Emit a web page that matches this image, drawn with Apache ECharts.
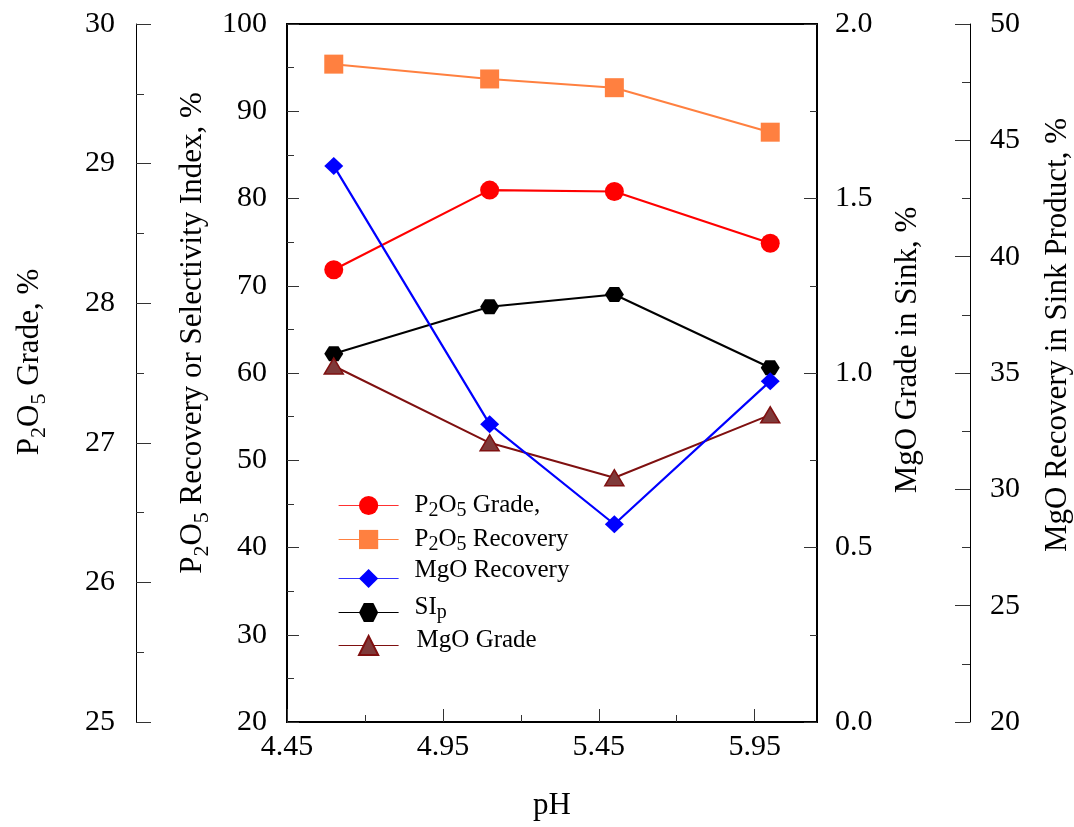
<!DOCTYPE html>
<html>
<head>
<meta charset="utf-8">
<title>Flotation performance vs pH</title>
<script src="https://cdn.jsdelivr.net/npm/echarts@6/dist/echarts.min.js"></script>
<style>
  html, body { margin: 0; padding: 0; background: #fff; }
  #chart { width: 1074px; height: 827px; }
</style>
</head>
<body>
<div id="chart"></div>
<script>
// pH values of the flotation tests
const phValues = [4.6, 5.1, 5.5, 6.0];

// Measured results at each pH
const p2o5Grade    = [28.24, 28.81, 28.80, 28.43]; // %, outer left axis
const p2o5Recovery = [95.4, 93.7, 92.7, 87.6];     // %, inner left axis
const mgoRecovery  = [43.9, 32.8, 28.5, 34.65];    // %, outer right axis
const siP          = [62.2, 67.6, 69.0, 60.6];     // selectivity index, inner left axis
const mgoGrade     = [1.02, 0.80, 0.70, 0.88];     // %, inner right axis

// x-axis tick positions
const phMajorTicks = [4.45, 4.95, 5.45, 5.95];
const phMinorTicks = [4.70, 5.20, 5.70];
const phRange = [4.45, 6.15];

// y-axis ranges [min, max, step]
const gradeAxis    = [25, 30, 1];
const recoveryAxis = [20, 100, 10];
const mgoGradeAxis = [0, 2, 0.5];
const mgoRecAxis   = [20, 50, 5];

const FONT = "'Liberation Serif', 'Times New Roman', serif";

const pairs = (ys) => phValues.map((x, i) => [x, ys[i]]);

const nameRich = {
  n: { fontFamily: FONT, fontSize: 31, color: '#000', lineHeight: 40 },
  s: { fontFamily: FONT, fontSize: 22, color: '#000', lineHeight: 16, verticalAlign: 'bottom' }
};

function yAxis(range, opts, shift) {
  return Object.assign({
    type: 'value',
    min: range[0], max: range[1], interval: range[2],
    nameLocation: 'middle',
    nameRotate: 90,
    nameMoveOverlap: false,
    // left padding moves the rotated title up along the axis
    nameTextStyle: { fontFamily: FONT, fontSize: 31, color: '#000', rich: nameRich,
                     padding: [0, 0, 0, shift * 2] },
    splitLine: { show: false },
    axisLine: { show: true, onZero: false, lineStyle: { color: '#000', width: 1 } },
    axisTick: { show: true, inside: true, length: 13, lineStyle: { color: '#333', width: 1 } },
    minorTick: { show: true, splitNumber: 2, length: 7, lineStyle: { color: '#333', width: 1 } },
    minorSplitLine: { show: false },
    axisLabel: { fontFamily: FONT, fontSize: 30, color: '#000', margin: 20 }
  }, opts);
}

const hexagon = 'path://M0,6 L4,0 L12,0 L16,6 L12,12 L4,12 Z';

const legendText = {
  'P2O5 Grade,': '{n|P}{s|2}{n|O}{s|5}{n| Grade,}',
  'P2O5 Recovery': '{n|P}{s|2}{n|O}{s|5}{n| Recovery}',
  'MgO Recovery': '{n|MgO Recovery}',
  'SIp': '{n|SI}{s|p}',
  'MgO Grade': '{n|MgO Grade}'
};

// one legend block per entry so each row sits at its own height
function legendItem(name, color, top, textPad) {
  return {
    data: [name],
    orient: 'vertical',
    left: 338,
    top: top,
    itemWidth: 60,
    itemHeight: 24,
    padding: 0,
    selectedMode: false,
    lineStyle: { color: color, width: 1.2 },
    formatter: (n) => legendText[n],
    textStyle: {
      fontFamily: FONT, fontSize: 25, color: '#000',
      padding: textPad,
      rich: {
        n: { fontFamily: FONT, fontSize: 25, color: '#000', lineHeight: 30 },
        s: { fontFamily: FONT, fontSize: 20, color: '#000', lineHeight: 18, verticalAlign: 'bottom' }
      }
    }
  };
}

const chart = echarts.init(document.getElementById('chart'), null, { renderer: 'canvas' });

chart.setOption({
  backgroundColor: '#fff',
  animation: false,
  textStyle: { fontFamily: FONT },
  grid: {
    left: 287, right: 257, top: 24, bottom: 105,
    show: true, borderColor: '#000', borderWidth: 2,
    backgroundColor: 'transparent',
    outerBoundsMode: 'none', containLabel: false
  },
  legend: [
    legendItem('P2O5 Grade,', '#ff3030', 493, [0, 0, 0, 11]),
    legendItem('P2O5 Recovery', '#ff8040', 527, [0, 0, 0, 11]),
    legendItem('MgO Recovery', '#3030ff', 558, [0, 0, 16, 11]),
    legendItem('SIp', '#000000', 595, [0, 0, 10, 11]),
    legendItem('MgO Grade', '#7f1010', 628, [0, 0, 10, 13])
  ],
  xAxis: [
    {
      type: 'value',
      min: phRange[0], max: phRange[1],
      position: 'bottom',
      name: 'pH',
      nameLocation: 'middle',
      nameGap: 68,
      nameMoveOverlap: false,
      nameTextStyle: { fontFamily: FONT, fontSize: 31, color: '#000' },
      splitLine: { show: false },
      axisLine: { show: true, onZero: false, lineStyle: { color: '#000', width: 2 } },
      axisTick: { show: true, inside: true, length: 13, customValues: phMajorTicks,
                  lineStyle: { color: '#333', width: 1 } },
      axisLabel: { fontFamily: FONT, fontSize: 30, color: '#000', margin: 10,
                   customValues: phMajorTicks, formatter: (v) => v.toFixed(2) }
    },
    {
      type: 'value',
      min: phRange[0], max: phRange[1],
      position: 'bottom',
      splitLine: { show: false },
      axisLine: { show: false },
      axisLabel: { show: false },
      axisTick: { show: true, inside: true, length: 7, customValues: phMinorTicks,
                  lineStyle: { color: '#333', width: 1 } }
    }
  ],
  yAxis: [
    yAxis(gradeAxis, {
      name: '{n|P}{s|2}{n|O}{s|5}{n| Grade, %}',
      position: 'left', offset: 151, nameGap: 86,
      axisTick: { show: true, inside: true, length: 15, lineStyle: { color: '#333', width: 1 } },
      minorTick: { show: true, splitNumber: 2, length: 8, lineStyle: { color: '#333', width: 1 } },
      axisLabel: { fontFamily: FONT, fontSize: 30, color: '#000', margin: 21 }
    }, 11),
    yAxis(recoveryAxis, {
      name: '{n|P}{s|2}{n|O}{s|5}{n| Recovery or Selectivity Index, %}',
      position: 'left', offset: 0, nameGap: 74,
      axisLine: { show: true, onZero: false, lineStyle: { color: '#000', width: 2 } },
      axisTick: { show: true, inside: true, length: 12, lineStyle: { color: '#333', width: 1 } }
    }, 40),
    yAxis(mgoGradeAxis, {
      name: '{n|MgO Grade in Sink, %}',
      position: 'right', offset: 0, nameGap: 71,
      axisLine: { show: true, onZero: false, lineStyle: { color: '#000', width: 2 } },
      axisLabel: { fontFamily: FONT, fontSize: 30, color: '#000', margin: 18,
                   formatter: (v) => v.toFixed(1) }
    }, 23),
    yAxis(mgoRecAxis, {
      name: '{n|MgO Recovery in Sink Product, %}',
      position: 'right', offset: 153, nameGap: 68,
      axisTick: { show: true, inside: true, length: 15, lineStyle: { color: '#333', width: 1 } },
      minorTick: { show: true, splitNumber: 2, length: 8, lineStyle: { color: '#333', width: 1 } }
    }, 38)
  ],
  series: [
    {
      name: 'P2O5 Grade,', type: 'line', yAxisIndex: 0, data: pairs(p2o5Grade),
      symbol: 'circle', symbolSize: 19,
      lineStyle: { color: '#ff0000', width: 2.2 },
      itemStyle: { color: '#ff0000' }
    },
    {
      name: 'P2O5 Recovery', type: 'line', yAxisIndex: 1, data: pairs(p2o5Recovery),
      symbol: 'rect', symbolSize: 19,
      lineStyle: { color: '#ff8040', width: 2 },
      itemStyle: { color: '#ff8040' }
    },
    {
      name: 'SIp', type: 'line', yAxisIndex: 1, data: pairs(siP),
      symbol: hexagon, symbolSize: [19, 15],
      lineStyle: { color: '#000', width: 2 },
      itemStyle: { color: '#000' }
    },
    {
      name: 'MgO Grade', type: 'line', yAxisIndex: 2, data: pairs(mgoGrade),
      symbol: 'triangle', symbolSize: [19, 16],
      lineStyle: { color: '#7f1010', width: 2 },
      itemStyle: { color: '#7f3a3a', borderColor: '#7f1010', borderWidth: 1.5 }
    },
    {
      name: 'MgO Recovery', type: 'line', yAxisIndex: 3, data: pairs(mgoRecovery),
      symbol: 'diamond', symbolSize: [19, 18],
      lineStyle: { color: '#0000ff', width: 2.2 },
      itemStyle: { color: '#0000ff' }
    }
  ]
});
</script>
</body>
</html>
